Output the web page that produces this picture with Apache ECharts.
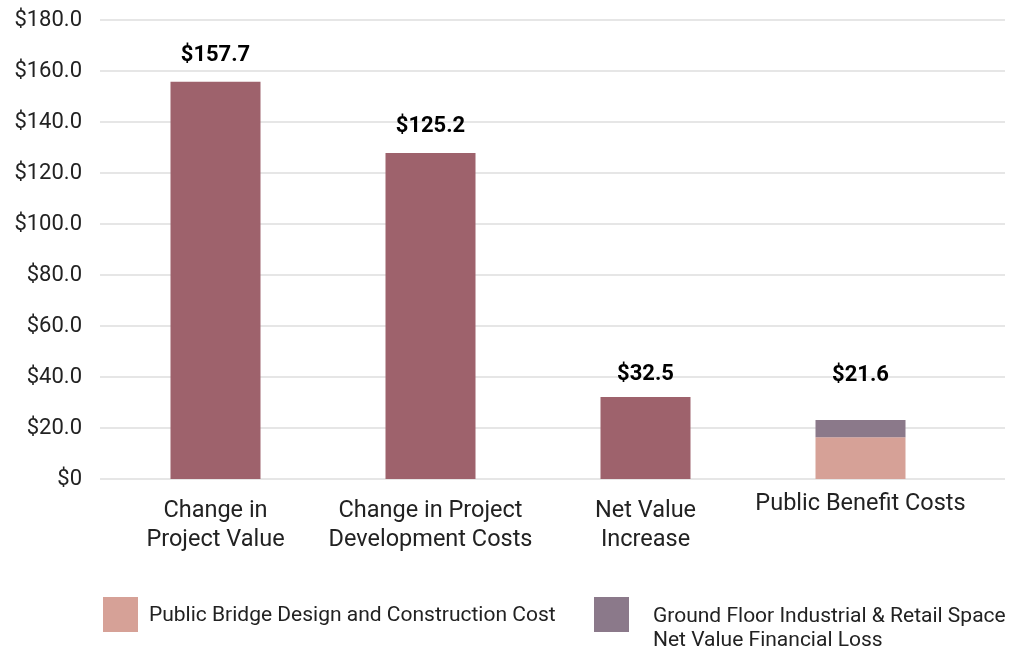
<!DOCTYPE html>
<html><head><meta charset="utf-8">
<script src="https://cdn.jsdelivr.net/npm/echarts@6/dist/echarts.min.js"></script>
<style>html,body{margin:0;padding:0;background:#fff}#c{width:1010px;height:654px}</style>
</head><body><div id="c"></div>
<script>
const categories = ['Change in\nProject Value', 'Change in Project\nDevelopment Costs', 'Net Value\nIncrease', 'Public Benefit Costs'];
const mainValues = [155.8, 127.8, 32.2, '-'];
const bridgeValues = ['-', '-', '-', 16.4];
const lossValues = ['-', '-', '-', 6.7];
const totalLabels = ['$157.7', '$125.2', '$32.5', '$21.6'];
const yTickValues = [0, 20, 40, 60, 80, 100, 120, 140, 160, 180];
const yTickLabels = ['$0', '$20.0', '$40.0', '$60.0', '$80.0', '$100.0', '$120.0', '$140.0', '$160.0', '$180.0'];
const seriesNames = ['Public Bridge Design and Construction Cost', 'Ground Floor Industrial & Retail Space\nNet Value Financial Loss'];

const FONT = 'Roboto, "Noto Sans", sans-serif';
const C_MAIN = '#9E626C', C_BRIDGE = '#D6A197', C_LOSS = '#8B798A';
const labelDist = [15, 16, 11, 0];

const chart = echarts.init(document.getElementById('c'), null, {renderer: 'canvas'});
const barLabel = (i, dist) => ({
  show: true, position: 'top', distance: dist,
  formatter: () => totalLabels[i],
  fontFamily: FONT, fontWeight: 'bold', fontSize: 22, color: '#000'
});

chart.setOption({
  animation: false,
  textStyle: {fontFamily: FONT},
  grid: [
    {left: 100, right: 5, top: 20, bottom: 175},
    {left: 108, right: 42, top: 20, bottom: 175}
  ],
  xAxis: [
    {gridIndex: 0, type: 'category', data: categories, show: false},
    {gridIndex: 1, type: 'category', data: categories,
     axisLine: {show: false}, axisTick: {show: false},
     axisLabel: {interval: 0, margin: 18, fontSize: 23.5, lineHeight: 29, color: '#222', fontFamily: FONT,
       formatter: (v, i) => i === 3 ? '{p|' + v + '}' : v,
       rich: {p: {fontSize: 23.5, lineHeight: 14, color: '#222', fontFamily: FONT}}}}
  ],
  yAxis: [
    {gridIndex: 0, type: 'value', min: 0, max: 180, interval: 20,
     axisLine: {show: false}, axisTick: {show: false},
     splitLine: {lineStyle: {color: '#E6E6E6', width: 2}},
     axisLabel: {margin: 18, fontSize: 22, color: '#222', fontFamily: FONT,
       formatter: v => yTickLabels[yTickValues.indexOf(v)]}},
    {gridIndex: 1, type: 'value', min: 0, max: 180, interval: 20, show: false, splitLine: {show: false}}
  ],
  legend: [
    {left: 103, top: 597, padding: 0, itemWidth: 35, itemHeight: 37, icon: 'rect', selectedMode: false,
     data: [{name: seriesNames[0], icon: 'path://M0,0L35,0L35,35L0,35Z M0,37L35,37'}],
     textStyle: {fontSize: 21, color: '#222', fontFamily: FONT, padding: [0, 0, 0, 6]}},
    {left: 594, top: 597, padding: 0, itemWidth: 35, itemHeight: 63, selectedMode: false,
     data: [{name: seriesNames[1], icon: 'path://M0,0L35,0L35,35L0,35Z M0,63L35,63'}],
     textStyle: {fontSize: 21, lineHeight: 24, color: '#222', fontFamily: FONT, padding: [0, 0, 0, 19]}}
  ],
  series: [
    {name: 'Main', type: 'bar', xAxisIndex: 1, yAxisIndex: 1, stack: 'a', barWidth: 90,
     itemStyle: {color: C_MAIN},
     data: mainValues.map((v, i) => v === '-' ? v : {value: v, label: barLabel(i, labelDist[i])})},
    {name: seriesNames[0], type: 'bar', xAxisIndex: 1, yAxisIndex: 1, stack: 'a', barWidth: 90,
     itemStyle: {color: C_BRIDGE}, data: bridgeValues},
    {name: seriesNames[1], type: 'bar', xAxisIndex: 1, yAxisIndex: 1, stack: 'a', barWidth: 90,
     itemStyle: {color: C_LOSS},
     data: lossValues.map((v, i) => v === '-' ? v : {value: v, label: barLabel(i, 34)})}
  ]
});
</script></body></html>
